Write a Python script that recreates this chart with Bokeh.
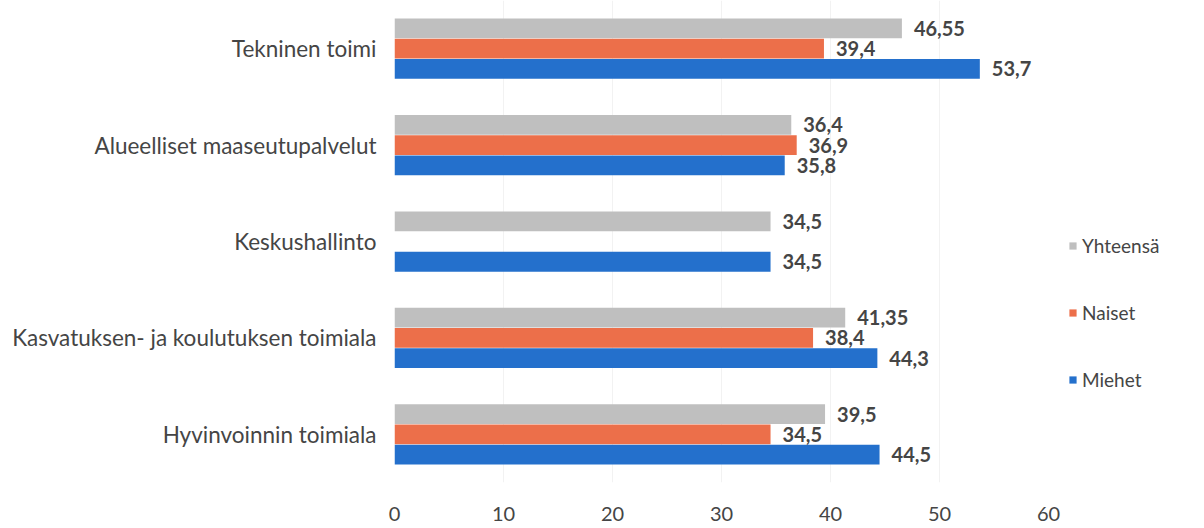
from bokeh.plotting import figure
from bokeh.models import FactorRange, ColumnDataSource, Legend, LegendItem, LabelSet
from bokeh.transform import dodge
from bokeh.core.properties import value
from bokeh.embed import file_html
from bokeh.resources import INLINE

categories = ["Tekninen toimi", "Alueelliset maaseutupalvelut", "Keskushallinto",
              "Kasvatuksen- ja koulutuksen toimiala", "Hyvinvoinnin toimiala"]
series = ["Yhteensä", "Naiset", "Miehet"]
yhteensa = [46.55, 36.4, 34.5, 41.35, 39.5]
naiset = [39.4, 36.9, None, 38.4, 34.5]
miehet = [53.7, 35.8, 34.5, 44.3, 44.5]
x_ticks = [0, 10, 20, 30, 40, 50, 60]

colors = {"Yhteensä": "#BFBFBF", "Naiset": "#EC6F4A", "Miehet": "#2470CC"}
offsets = {"Yhteensä": 0.21, "Naiset": 0.0, "Miehet": -0.21}
values = {"Yhteensä": yhteensa, "Naiset": naiset, "Miehet": miehet}

FONT = "Lato"
TXT = "#454545"

yr = FactorRange(factors=list(reversed(categories)), range_padding=0,
                 range_padding_units="absolute")
p = figure(frame_width=654, frame_height=482, output_backend="svg", toolbar_location=None,
           y_range=yr, x_range=(0, 60), min_border_left=394, min_border_right=0,
           min_border_top=0, min_border_bottom=0)

renderers = {}
for s in series:
    cats = [c for c, v in zip(categories, values[s]) if v is not None]
    vals = [v for v in values[s] if v is not None]
    labels = [("%g" % v).replace(".", ",") for v in vals]
    src = ColumnDataSource(dict(cat=cats, val=vals, lab=labels))
    r = p.hbar(y=dodge("cat", offsets[s], range=p.y_range), right="val", left=0,
               height=0.205, source=src, color=colors[s], line_color=None)
    renderers[s] = r
    ls = LabelSet(x="val", y=dodge("cat", offsets[s], range=p.y_range), text="lab",
                  source=src, x_offset=12, y_offset=0, text_baseline="middle",
                  text_font=value(FONT), text_font_style="bold", text_font_size="20px",
                  text_color=TXT)
    p.add_layout(ls)

p.xaxis.ticker = x_ticks
p.xaxis.axis_line_color = None
p.xaxis.major_tick_line_color = None
p.xaxis.minor_tick_line_color = None
p.xaxis.major_label_text_font = FONT
p.xaxis.major_label_text_font_size = "20px"
p.xaxis.major_label_text_color = TXT
p.xaxis.major_label_standoff = 18

p.yaxis.axis_line_color = None
p.yaxis.major_tick_line_color = None
p.yaxis.major_label_text_font = FONT
p.yaxis.major_label_text_font_size = "22.5px"
p.yaxis.major_label_text_color = TXT
p.yaxis.major_label_standoff = 12

p.xgrid.grid_line_color = "#F2F2F2"
p.ygrid.grid_line_color = None
p.outline_line_color = None

legend = Legend(items=[LegendItem(label=s, renderers=[renderers[s]]) for s in series],
                location=(20, 91), orientation="vertical", spacing=44,
                glyph_width=9, glyph_height=9, label_text_font=FONT,
                label_text_font_size="19px", label_text_color=TXT,
                label_standoff=5, border_line_color=None, background_fill_alpha=0,
                margin=32, padding=0)
p.add_layout(legend, "right")

open("out.html", "w").write(file_html(p, INLINE))
